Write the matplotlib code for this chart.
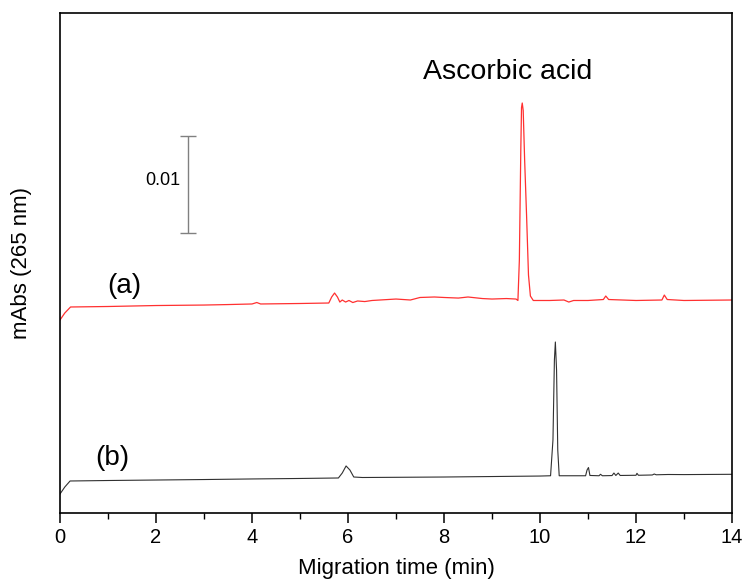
import numpy as np
import matplotlib.pyplot as plt
from matplotlib.ticker import MultipleLocator

plt.rcParams['font.family'] = ['Liberation Sans', 'DejaVu Sans']

# trace (a): red electropherogram, time (min) and absorbance
time_a = [0.00, 0.10, 0.22, 1.00, 2.00, 3.00, 3.50, 4.00, 4.10, 4.18, 5.00, 5.60,
          5.66, 5.72, 5.78, 5.83, 5.88, 5.95, 6.02, 6.10, 6.20, 6.35, 6.50, 7.00,
          7.30, 7.50, 7.80, 8.00, 8.30, 8.50, 8.80, 9.00, 9.30, 9.50, 9.54, 9.57,
          9.60, 9.615, 9.63, 9.65, 9.68, 9.72, 9.76, 9.80, 9.86, 10.20, 10.50,
          10.60, 10.70, 11.00, 11.32, 11.37, 11.43, 12.00, 12.54, 12.59, 12.65,
          13.00, 14.00]
abs_a = [0.01990, 0.02062, 0.02124, 0.02129, 0.02139, 0.02144, 0.02149, 0.02155,
         0.02170, 0.02155, 0.02160, 0.02165, 0.02227, 0.02268, 0.02227, 0.02175,
         0.02196, 0.02175, 0.02191, 0.02170, 0.02186, 0.02180, 0.02191, 0.02206,
         0.02196, 0.02222, 0.02227, 0.02222, 0.02216, 0.02227, 0.02211, 0.02206,
         0.02211, 0.02206, 0.02191, 0.02608, 0.03742, 0.04180, 0.04227, 0.04150,
         0.03639, 0.03072, 0.02454, 0.02237, 0.02191, 0.02191, 0.02196, 0.02175,
         0.02191, 0.02191, 0.02201, 0.02237, 0.02201, 0.02191, 0.02196, 0.02247,
         0.02201, 0.02191, 0.02196]

# trace (b): black electropherogram
time_b = [0.00, 0.10, 0.21, 1.00, 2.00, 3.00, 4.00, 5.00, 5.80, 5.88, 5.96, 6.04,
          6.12, 6.30, 7.00, 8.00, 9.00, 10.00, 10.22, 10.27, 10.30, 10.32, 10.345,
          10.37, 10.40, 10.95, 10.98, 11.01, 11.04, 11.23, 11.26, 11.30, 11.50,
          11.54, 11.58, 11.63, 11.67, 12.00, 12.02, 12.05, 12.34, 12.38, 12.42,
          12.67, 13.00, 14.00]
abs_b = [0.00196, 0.00268, 0.00330, 0.00335, 0.00340, 0.00345, 0.00351, 0.00356,
         0.00361, 0.00412, 0.00485, 0.00443, 0.00371, 0.00366, 0.00368, 0.00371,
         0.00376, 0.00381, 0.00384, 0.00753, 0.01577, 0.01763, 0.01474, 0.00649,
         0.00384, 0.00384, 0.00443, 0.00469, 0.00387, 0.00384, 0.00399, 0.00384,
         0.00386, 0.00412, 0.00387, 0.00412, 0.00387, 0.00389, 0.00409, 0.00389,
         0.00392, 0.00402, 0.00394, 0.00397, 0.00396, 0.00399]

scale_value = 0.01

fig = plt.figure(figsize=(7.42, 5.81), dpi=100)
ax = fig.add_axes([60 / 742, 68 / 581, 672 / 742, 500 / 581])

ax.plot(time_a, abs_a, color='#ff3030', lw=0.9)
ax.plot(time_b, abs_b, color='#303030', lw=0.8)

# scale bar
ax.errorbar([2.66], [0.02887 + scale_value / 2], yerr=scale_value / 2,
            color='#808080', lw=1.0, capsize=6, capthick=1.0)
ax.text(2.5, 0.03433, '0.01', ha='right', va='center', fontsize=13)

ax.text(1.35, 0.0234, '(a)', ha='center', va='center', fontsize=20)
ax.text(1.09, 0.00567, '(b)', ha='center', va='center', fontsize=20)
ax.text(9.33, 0.04546, 'Ascorbic acid', ha='center', va='center', fontsize=20.5)

ax.set_xlim(0, 14)
ax.set_ylim(0, 0.05155)
ax.xaxis.set_major_locator(MultipleLocator(2))
ax.xaxis.set_minor_locator(MultipleLocator(1))
ax.tick_params(axis='x', which='major', direction='out', length=7, width=1.1,
               labelsize=14.5, pad=4)
ax.tick_params(axis='x', which='minor', direction='out', length=4, width=1.0)
ax.set_yticks([])
for s in ax.spines.values():
    s.set_linewidth(1.2)

ax.set_xlabel('Migration time (min)', fontsize=16, labelpad=8)
ax.set_ylabel('mAbs (265 nm)', fontsize=16, labelpad=20)

fig.savefig('out.png', dpi=100)
